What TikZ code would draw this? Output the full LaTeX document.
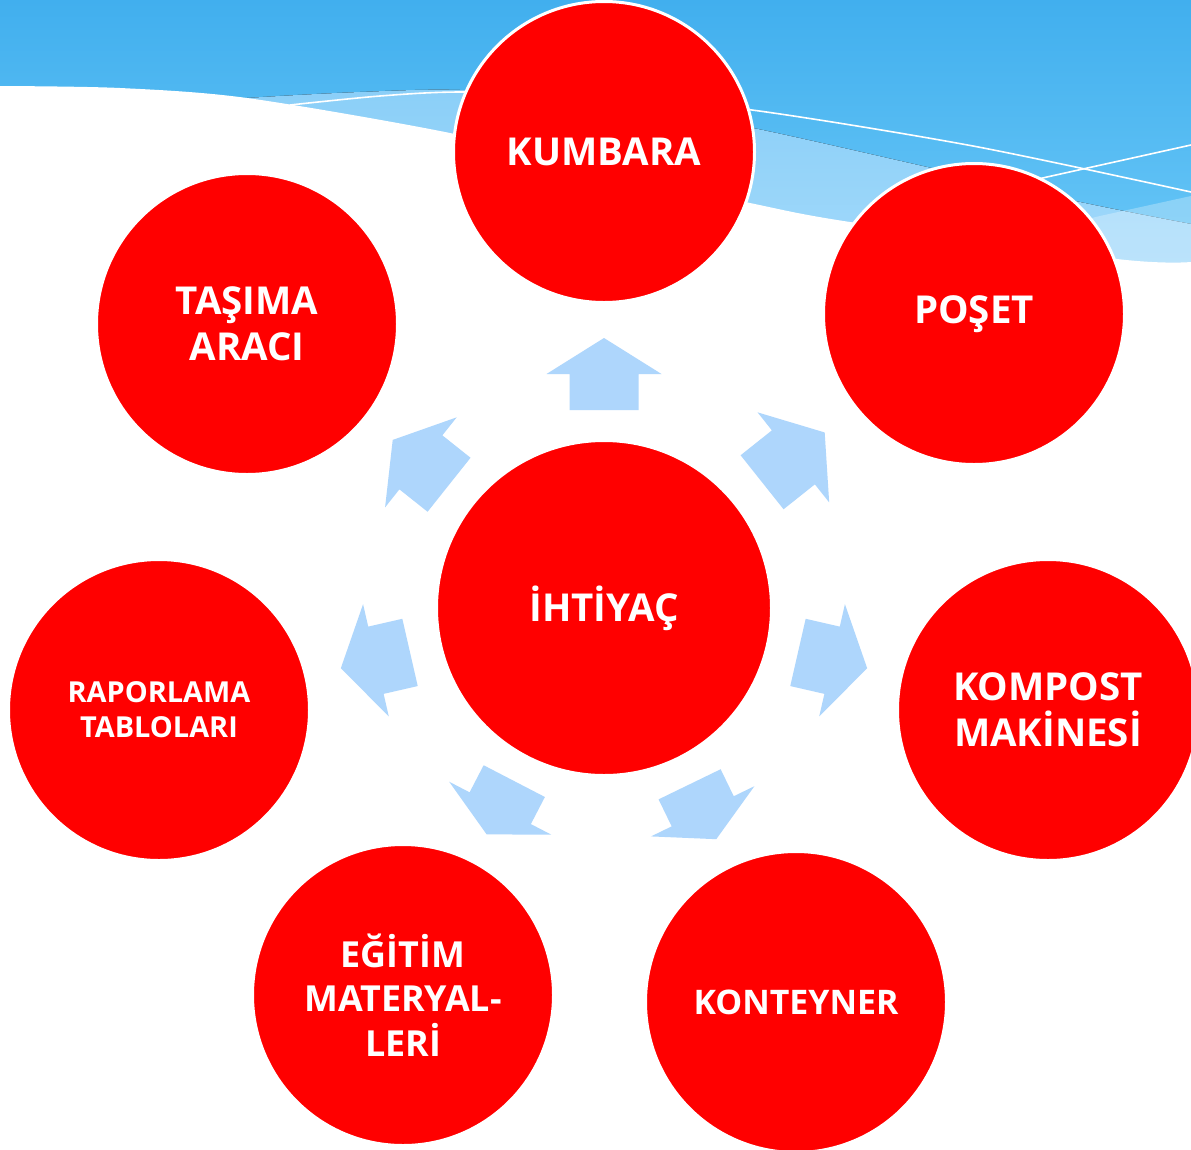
\documentclass[tikz,border=0pt]{standalone}
\usepackage{fontspec}
\setmainfont{Open Sans}
\definecolor{bgtop}{HTML}{41AFEE}
\definecolor{bgbot}{HTML}{6ECAF8}
\definecolor{bandtop}{HTML}{8BCFF8}
\definecolor{bandbot}{HTML}{A8DCFB}
\definecolor{arrowblue}{HTML}{AED6FC}
\definecolor{disc}{HTML}{FF0000}
\tikzset{
  x=1bp, y=-1bp,
  disk/.style={circle, fill=disc, draw=white, line width=3bp, minimum size=301bp,
    inner sep=0pt, text=white, align=center},
  hubdisk/.style={disk, minimum size=335bp},
  bigtxt/.style={font=\bfseries\fontsize{38.6}{46.5}\selectfont},
  kontxt/.style={font=\bfseries\fontsize{34}{44.5}\selectfont},
  edutxt/.style={font=\bfseries\fontsize{36}{44.5}\selectfont},
  smalltxt/.style={font=\bfseries\fontsize{29}{35}\selectfont},
  blockarrow/.style={fill=arrowblue},
  deco/.style={draw=white, line width=1.6bp}
}
\begin{document}
\begin{tikzpicture}
\clip (0,0) rectangle (1191,1150);
\fill[white] (0,0) rectangle (1191,1150);
% sky band
\fill[top color=bgtop, bottom color=bgbot] (0,0) rectangle (1191,300);
\fill[top color=bandtop, bottom color=bandbot]
  plot[smooth] coordinates {(150,106) (247,98) (360,92) (460,90) (600,100) (753,128) (927,167) (1080,202) (1191,224)}
  -- (1191,320) -- (150,320) -- cycle;
\fill[white, opacity=0.28] (900,265) -- (1100,216) -- (1191,196) -- (1191,320) -- (900,320) -- cycle;
\draw[deco] plot[smooth] coordinates {(290,105) (380,96) (462,92) (600,96) (752,110) (973,146) (1191,192)};
\draw[deco] (1000,188) -- (1047,177) -- (1191,145);
\fill[white] plot[smooth] coordinates {(0,86) (120,88) (247,98) (450,133) (600,170) (750,203) (850,222) (1117,259) (1191,262)}
  -- (1191,1150) -- (0,1150) -- cycle;

% hub
\node[hubdisk, bigtxt] (hub) at (604,608) {İHTİYAÇ};

% arrows
\foreach \ang/\ra/\rb/\rc in {90/198/234/270, 38.5/202/242/282, -12.9/199/234/270,
    -64.1/196/226/257, -117.4/195/225.5/255, 192.9/199/234/270, 141.5/198/234/270}{
  \begin{scope}[shift={(hub.center)}, rotate=\ang]
    \fill[blockarrow] (\ra,-34.5) -- (\rb,-34.5) -- (\rb,-57.5) -- (\rc,0)
      -- (\rb,57.5) -- (\rb,34.5) -- (\ra,34.5) -- cycle;
  \end{scope}
}

% outer discs
\node[disk, bigtxt] (kumbara) at (604,152) {KUMBARA};
\node[disk, bigtxt] (poset) at (974,314) {POŞET};
\node[disk, bigtxt] (kompost) at (1048,710) {KOMPOST\\MAKİNESİ};
\node[disk, kontxt] (konteyner) at (796,1002) {KONTEYNER};
\node[disk, edutxt] (egitim) at (403,995) {EĞİTİM\\MATERYAL-\\LERİ};
\node[disk, smalltxt] (rapor) at (159,710) {RAPORLAMA\\TABLOLARI};
\node[disk, bigtxt] (tasima) at (247,324) {TAŞIMA\\ARACI};
\end{tikzpicture}
\end{document}
